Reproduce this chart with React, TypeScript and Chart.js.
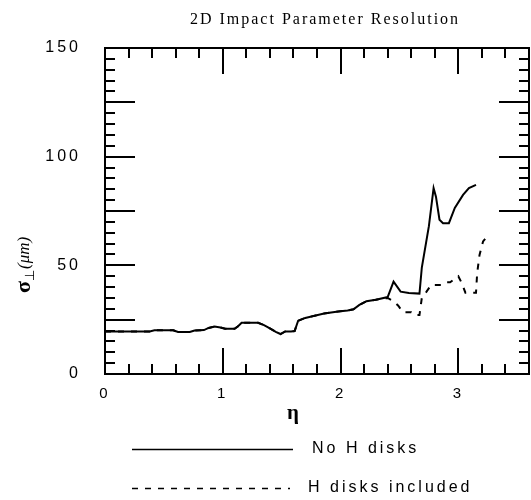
import React, { useEffect, useRef } from "react";
import { Chart, registerables } from "chart.js";

Chart.register(...registerables);

const TITLE = "2D Impact Parameter Resolution";
const X_TITLE = "η";
const SERIES_LABELS = ["No H disks", "H disks included"];
const xTickLabels = [0, 1, 2, 3];
const yTickLabels = [0, 50, 100, 150];

const etaNoH = [
  0, 0.38, 0.42, 0.58, 0.62, 0.72, 0.76, 0.84, 0.88, 0.93,
  0.98, 1.02, 1.1, 1.13, 1.16, 1.3, 1.35, 1.4, 1.45, 1.49,
  1.53, 1.58, 1.61, 1.64, 1.7, 1.78, 1.86, 1.98, 2.06, 2.11,
  2.16, 2.22, 2.3, 2.4, 2.45, 2.51, 2.58, 2.67, 2.69, 2.75,
  2.79, 2.81, 2.84, 2.87, 2.92, 2.97, 3.04, 3.09, 3.15,
];
const sigmaNoH = [
  19.6, 19.6, 20.1, 20.1, 19.3, 19.3, 20.0, 20.2, 21.2, 21.8,
  21.4, 20.8, 20.8, 22.0, 23.6, 23.6, 22.5, 21.0, 19.4, 18.4,
  19.6, 19.6, 19.8, 24.5, 25.8, 26.8, 27.8, 28.8, 29.2, 29.8,
  31.8, 33.5, 34.2, 35.4, 42.5, 37.9, 37.3, 37.0, 49.0, 68.0,
  85.5, 81.6, 71.0, 69.4, 69.4, 76.4, 82.4, 85.5, 87.0,
];

const etaWithH = [
  0, 0.38, 0.42, 0.58, 0.62, 0.72, 0.76, 0.84, 0.88, 0.93,
  0.98, 1.02, 1.1, 1.13, 1.16, 1.3, 1.35, 1.4, 1.45, 1.49,
  1.53, 1.58, 1.61, 1.64, 1.7, 1.78, 1.86, 1.98, 2.06, 2.11,
  2.16, 2.22, 2.3, 2.4, 2.45, 2.49, 2.53, 2.6, 2.63, 2.67,
  2.69, 2.73, 2.77, 2.86, 2.9, 2.93, 3.0, 3.03, 3.06, 3.15,
  3.16, 3.18, 3.21, 3.24,
];
const sigmaWithH = [
  19.6, 19.6, 20.1, 20.1, 19.3, 19.3, 20.0, 20.2, 21.2, 21.8,
  21.4, 20.8, 20.8, 22.0, 23.6, 23.6, 22.5, 21.0, 19.4, 18.4,
  19.6, 19.6, 19.8, 24.5, 25.8, 26.8, 27.8, 28.8, 29.2, 29.8,
  31.8, 33.5, 34.2, 35.0, 33.5, 31.4, 28.4, 28.4, 27.1, 27.1,
  35.0, 37.9, 41.0, 41.0, 42.2, 42.2, 45.0, 41.7, 37.4, 37.4,
  46.5, 54.8, 61.0, 63.0,
];

const DASH = [6, 7];

const decorPlugin = {
  id: "decor",
  beforeUpdate(chart: any) {
    chart.ctx.letterSpacing = "3px";
  },
  beforeDraw(chart: any) {
    chart.ctx.letterSpacing = "3px";
  },
  afterDraw(chart: any) {
    const ctx = chart.ctx as CanvasRenderingContext2D;
    const a = chart.chartArea;
    const xs = chart.scales.x;
    const ys = chart.scales.y;
    ctx.save();
    ctx.strokeStyle = "#000";
    ctx.fillStyle = "#000";
    ctx.lineWidth = 2;
    ctx.setLineDash([]);
    ctx.strokeRect(a.left, a.top, a.right - a.left, a.bottom - a.top);

    ctx.lineWidth = 2;
    ctx.beginPath();
    for (let i = 1; i < 18; i++) {
      const v = i * 0.2;
      const px = Math.round(xs.getPixelForValue(v));
      const len = i % 5 === 0 ? 26 : 10;
      ctx.moveTo(px, a.bottom);
      ctx.lineTo(px, a.bottom - len);
      ctx.moveTo(px, a.top);
      ctx.lineTo(px, a.top + len);
    }
    for (let i = 1; i < 30; i++) {
      const v = i * 5;
      const py = Math.round(ys.getPixelForValue(v));
      const len = i % 5 === 0 ? 30 : 10;
      ctx.moveTo(a.left, py);
      ctx.lineTo(a.left + len, py);
      ctx.moveTo(a.right, py);
      ctx.lineTo(a.right - len, py);
    }
    ctx.stroke();

    // Title
    ctx.letterSpacing = "2px";
    ctx.font = '16px "Liberation Serif"';
    ctx.textAlign = "center";
    ctx.textBaseline = "middle";
    ctx.fillText(TITLE, 325, 20);

    // X title
    ctx.letterSpacing = "0px";
    ctx.font = 'bold 21px "Liberation Serif"';
    ctx.fillText(X_TITLE, 293, 414);

    // Y title (rotated)
    ctx.save();
    ctx.translate(24, 259);
    ctx.rotate(-Math.PI / 2);
    ctx.textAlign = "left";
    ctx.textBaseline = "alphabetic";
    let cx = -34;
    ctx.font = 'bold 22px "Liberation Serif"';
    ctx.fillText("σ", cx, 6);
    cx += ctx.measureText("σ").width;
    ctx.font = '13px "Liberation Serif"';
    ctx.fillText("⊥", cx, 10);
    cx += ctx.measureText("⊥").width + 1;
    ctx.font = 'italic 17px "Liberation Serif"';
    ctx.fillText("(μm)", cx, 5);
    ctx.restore();

    // Legend
    const ds = chart.data.datasets;
    const rows = [
      { x1: 132, x2: 293, y: 449, tx: 312 },
      { x1: 132, x2: 290, y: 488, tx: 308 },
    ];
    ctx.letterSpacing = "3px";
    ctx.font = '16px "Liberation Sans"';
    ctx.textAlign = "left";
    ctx.textBaseline = "middle";
    rows.forEach((r, i) => {
      const d = ds[i];
      ctx.lineWidth = 1.6;
      ctx.setLineDash(d.borderDash || []);
      ctx.beginPath();
      ctx.moveTo(r.x1, r.y + 0.5);
      ctx.lineTo(r.x2, r.y + 0.5);
      ctx.stroke();
      ctx.setLineDash([]);
      ctx.fillText(d.label, r.tx, r.y);
    });
    ctx.restore();
  },
};

export default function App() {
  const ref = useRef<HTMLCanvasElement | null>(null);
  useEffect(() => {
    document.body.style.margin = "0";
    const canvas = ref.current!;
    const mk = (xs: number[], ys: number[]) => xs.map((x, i) => ({ x, y: ys[i] }));
    const chart = new Chart(canvas, {
      type: "line",
      data: {
        datasets: [
          {
            label: SERIES_LABELS[0],
            data: mk(etaNoH, sigmaNoH),
            borderColor: "#000",
            borderWidth: 2,
            pointRadius: 0,
            tension: 0,
            fill: false,
          },
          {
            label: SERIES_LABELS[1],
            data: mk(etaWithH, sigmaWithH),
            borderColor: "#000",
            borderWidth: 2,
            borderDash: DASH,
            pointRadius: 0,
            tension: 0,
            fill: false,
          },
        ],
      },
      options: {
        animation: false,
        responsive: false,
        events: [],
        layout: { padding: { top: 48, right: 2, bottom: 86, left: 0 } },
        plugins: {
          legend: { display: false },
          title: { display: false },
          tooltip: { enabled: false },
        },
        scales: {
          x: {
            type: "linear",
            min: 0,
            max: 3.6,
            grid: { display: false, drawTicks: false },
            border: { display: false },
            afterBuildTicks: (s: any) => {
              s.ticks = xTickLabels.map((v) => ({ value: v }));
            },
            afterFit: (s: any) => {
              s.height = 40;
            },
            ticks: {
              color: "#000",
              padding: 11,
              maxRotation: 0,
              font: { family: "Liberation Sans", size: 15 },
            },
          },
          y: {
            type: "linear",
            min: 0,
            max: 150,
            grid: { display: false, drawTicks: false },
            border: { display: false },
            afterBuildTicks: (s: any) => {
              s.ticks = yTickLabels.map((v) => ({ value: v }));
            },
            afterFit: (s: any) => {
              s.width = 105;
            },
            ticks: {
              color: "#000",
              padding: 24,
              font: { family: "Liberation Sans", size: 16 },
            },
          },
        },
      },
      plugins: [decorPlugin],
    } as any);
    return () => chart.destroy();
  }, []);
  return (
    <canvas ref={ref} width={531} height={500} style={{ display: "block", width: 531, height: 500 }} />
  );
}
